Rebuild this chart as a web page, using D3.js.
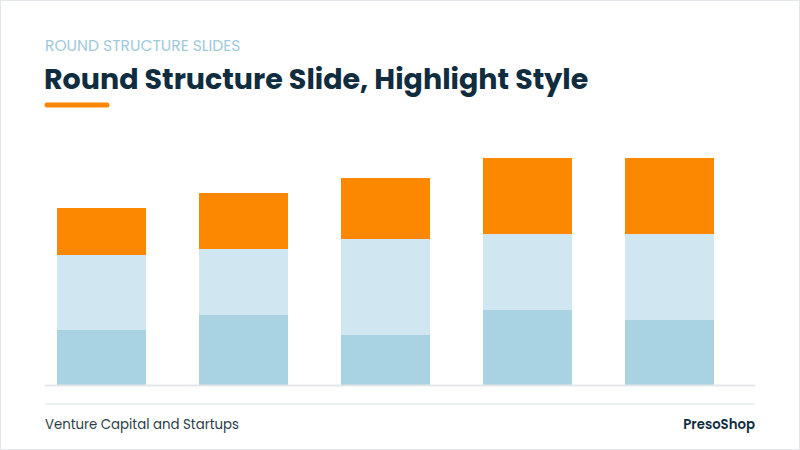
<!DOCTYPE html>
<html>
<head>
<meta charset="utf-8">
<script src="https://cdn.jsdelivr.net/npm/d3@7"></script>
<style>
  body { margin: 0; background: #fff; }
  svg { display: block; font-family: Poppins, "Open Sans", sans-serif; }
</style>
</head>
<body>
<svg id="chart" width="800" height="450"></svg>
<script>
// data
const categories = ['A', 'B', 'C', 'D', 'E'];
const seriesNames = ['base', 'middle', 'top'];
const baseValues = [55, 70, 50, 75, 65];
const middleValues = [75, 66, 96, 76, 86];
const topValues = [47, 56, 61, 76, 76];
const colors = ['#a9d2e3', '#d0e6f0', '#fb8800'];

const svg = d3.select('#chart');

// slide frame
svg.append('rect')
    .attr('x', 0.5).attr('y', 0.5)
    .attr('width', 799).attr('height', 449)
    .attr('fill', '#fff').attr('stroke', '#e3e7ea');

// header
svg.append('text')
    .attr('x', 45).attr('y', 51)
    .attr('fill', '#9fcadb').attr('font-size', 15.5)
    .text('ROUND STRUCTURE SLIDES');
svg.append('text')
    .attr('x', 44).attr('y', 89)
    .attr('fill', '#0f2d3f').attr('font-size', 28.5).attr('font-weight', 'bold')
    .text('Round Structure Slide, Highlight Style');
svg.append('line')
    .attr('x1', 47).attr('x2', 107).attr('y1', 105).attr('y2', 105)
    .attr('stroke', '#fb8800').attr('stroke-width', 5).attr('stroke-linecap', 'round');

// chart
const x = d3.scaleBand()
    .domain(categories)
    .range([57, 714])
    .paddingInner(0.373)
    .paddingOuter(0);
const y = d3.scaleLinear()
    .domain([0, 250])
    .range([385, 135]);

const table = categories.map((c, i) => ({
    cat: c, base: baseValues[i], middle: middleValues[i], top: topValues[i]
}));
const stacked = d3.stack().keys(seriesNames)(table);

svg.append('g')
    .selectAll('g')
    .data(stacked)
    .join('g')
    .attr('fill', (d, i) => colors[i])
    .selectAll('rect')
    .data(d => d)
    .join('rect')
    .attr('x', d => x(d.data.cat))
    .attr('width', x.bandwidth())
    .attr('y', d => y(d[1]))
    .attr('height', d => y(d[0]) - y(d[1]));

// baseline
svg.append('line')
    .attr('x1', 45).attr('x2', 755).attr('y1', 385.5).attr('y2', 385.5)
    .attr('stroke', '#e3e7ea').attr('stroke-width', 2);

// footer
svg.append('line')
    .attr('x1', 45).attr('x2', 755).attr('y1', 404).attr('y2', 404)
    .attr('stroke', '#e8ecee').attr('stroke-width', 1.5);
svg.append('text')
    .attr('x', 45).attr('y', 429)
    .attr('fill', '#2b3d48').attr('font-size', 13.3)
    .text('Venture Capital and Startups');
svg.append('text')
    .attr('x', 755).attr('y', 429)
    .attr('text-anchor', 'end')
    .attr('fill', '#0f2d3f').attr('font-size', 13.3).attr('font-weight', 600)
    .text('PresoShop');
</script>
</body>
</html>
